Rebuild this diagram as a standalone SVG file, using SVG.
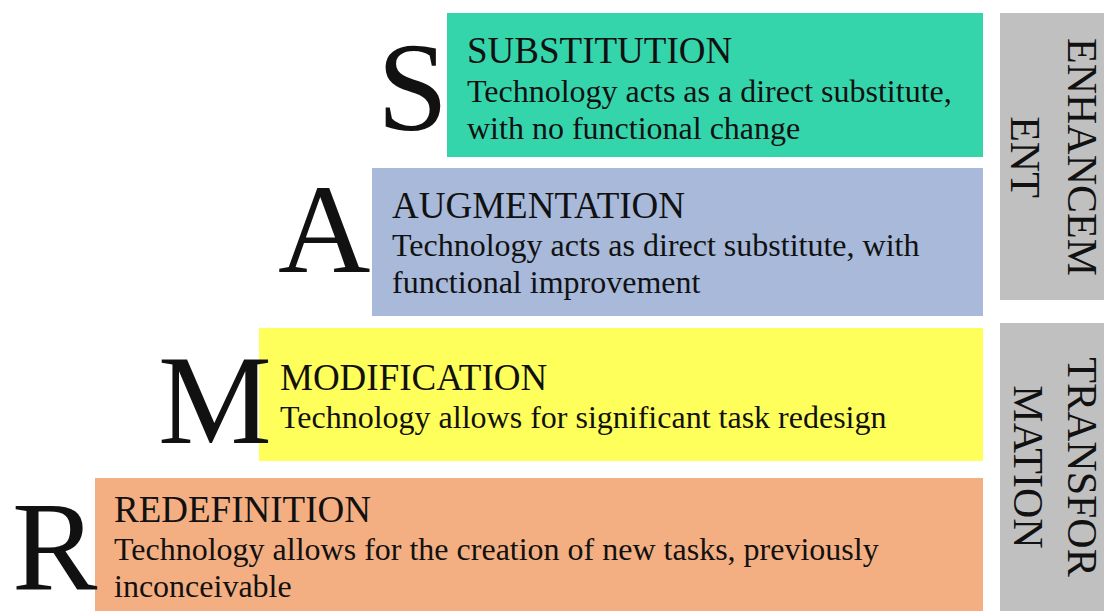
<svg xmlns="http://www.w3.org/2000/svg" width="1104" height="611" viewBox="0 0 1104 611">
<style>
text{font-family:"Liberation Serif","Times New Roman",serif;fill:#111}
.big{font-size:128px}
.title{font-size:37px}
.body{font-size:32px}
.side{font-size:42px;text-anchor:middle}
</style>
<rect width="1104" height="611" fill="#fff"/>
<g id="node-s">
<rect x="447" y="13" width="536" height="144" fill="#35D5AC"/>
<text class="big" x="377" y="130">S</text>
<text class="title" x="467" y="63">SUBSTITUTION</text>
<text class="body" x="467" y="102">Technology acts as a direct substitute,</text>
<text class="body" x="467" y="139">with no functional change</text>
</g>
<g id="node-a">
<rect x="372" y="168" width="611" height="148" fill="#A8B9DA"/>
<text class="big" x="278" y="272">A</text>
<text class="title" x="392" y="218">AUGMENTATION</text>
<text class="body" x="392" y="256">Technology acts as direct substitute, with</text>
<text class="body" x="392" y="293">functional improvement</text>
</g>
<g id="node-m">
<rect x="259" y="328" width="724" height="133" fill="#FFFF5C"/>
<text class="big" x="158" y="443">M</text>
<text class="title" x="280" y="390">MODIFICATION</text>
<text class="body" x="280" y="428">Technology allows for significant task redesign</text>
</g>
<g id="node-r">
<rect x="95" y="478" width="888" height="133" fill="#F3AF82"/>
<text class="big" x="12" y="590">R</text>
<text class="title" x="114" y="522">REDEFINITION</text>
<text class="body" x="114" y="560">Technology allows for the creation of new tasks, previously</text>
<text class="body" x="114" y="597">inconceivable</text>
</g>
<g id="node-enhancement">
<rect x="1000" y="13" width="104" height="287" fill="#C0C0C0"/>
<g transform="translate(1068,157) rotate(90)">
<text class="side" x="0" y="0">ENHANCEM</text>
<text class="side" x="0" y="57">ENT</text>
</g>
</g>
<g id="node-transformation">
<rect x="1000" y="323" width="104" height="288" fill="#C0C0C0"/>
<g transform="translate(1068,467) rotate(90)">
<text class="side" x="0" y="0">TRANSFOR</text>
<text class="side" x="0" y="54">MATION</text>
</g>
</g>
<g id="connectors"></g>
</svg>
